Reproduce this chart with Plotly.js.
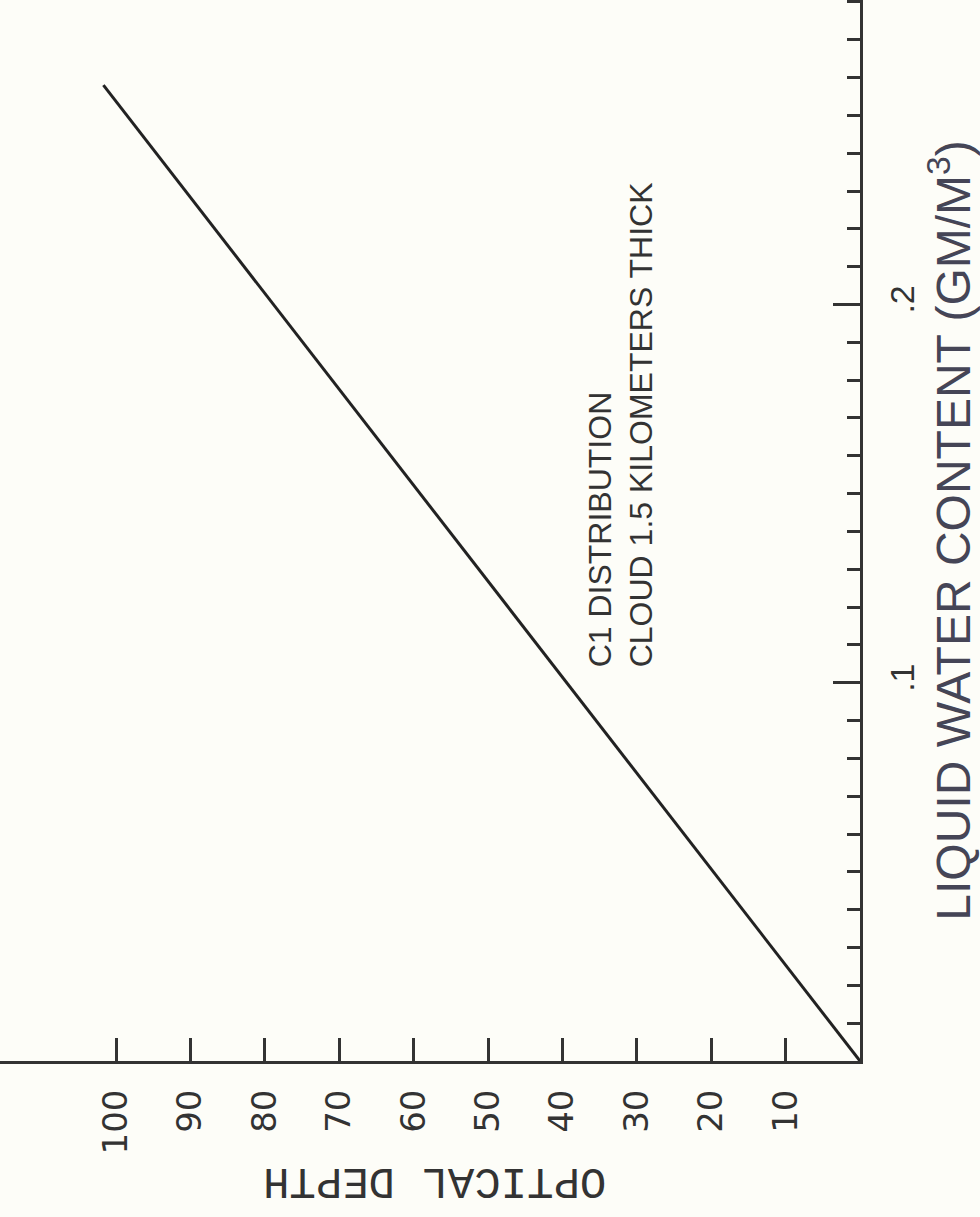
<!DOCTYPE html>
<html>
<head>
<meta charset="utf-8">
<script src="https://cdn.plot.ly/plotly-3.0.1.min.js"></script>
<style>
  html, body { margin: 0; padding: 0; background: #fdfdf8; }
  #chart { width: 980px; height: 1217px; }
</style>
</head>
<body>
<div id="chart"></div>
<script>
// Data (optical depth vs liquid water content)
const liquidWaterContent = [0, 0.05, 0.10, 0.15, 0.20, 0.258];
const opticalDepth = [0, 19.7, 39.4, 59.1, 78.8, 101.7];

// Tick labels
const odTickVals = [10, 20, 30, 40, 50, 60, 70, 80, 90, 100];
const odTickText = ['10', '20', '30', '40', '50', '60', '70', '80', '90', '100'];
const lwcTickVals = [0.1, 0.2];
const lwcTickText = ['.1', '.2'];

// Text
const xTitle = 'OPTICAL DEPTH';
const yTitle = 'LIQUID WATER CONTENT (GM/M<sup>3</sup>)';
const noteText = 'C1 DISTRIBUTION<br>CLOUD 1.5 KILOMETERS THICK';

const ink = '#333333';

const trace = {
  x: opticalDepth,
  y: liquidWaterContent,
  type: 'scatter',
  mode: 'lines',
  line: { color: '#222222', width: 3 },
  hoverinfo: 'skip'
};

const layout = {
  width: 980,
  height: 1217,
  paper_bgcolor: '#fdfdf8',
  plot_bgcolor: '#fdfdf8',
  showlegend: false,
  margin: { l: 0, r: 120, t: 0, b: 156 },
  xaxis: {
    range: [115.6, 0],
    tickmode: 'array',
    tickvals: odTickVals,
    ticktext: odTickText,
    tickangle: -90,
    ticks: 'inside',
    ticklen: 23,
    tickwidth: 3,
    tickcolor: ink,
    ticklabelstandoff: 12,
    tickfont: { family: 'DejaVu Sans', size: 34, color: ink },
    showline: true,
    linewidth: 3,
    linecolor: ink,
    showgrid: false,
    zeroline: false
  },
  yaxis: {
    side: 'right',
    range: [0, 0.2805],
    tickmode: 'array',
    tickvals: lwcTickVals,
    ticktext: lwcTickText,
    tickangle: -90,
    ticks: 'inside',
    ticklen: 27,
    tickwidth: 3,
    tickcolor: ink,
    ticklabelstandoff: 10,
    tickfont: { family: 'Liberation Sans', size: 34, color: ink },
    minor: { tick0: 0, dtick: 0.01, ticks: 'inside', ticklen: 13, tickwidth: 3, tickcolor: ink, showgrid: false },
    showline: true,
    linewidth: 3,
    linecolor: ink,
    showgrid: false,
    zeroline: false,
    title: {
      text: yTitle,
      standoff: 12,
      font: { family: 'Liberation Sans', size: 48, color: '#454556' }
    }
  },
  annotations: [
    {
      text: xTitle,
      xref: 'paper', yref: 'paper',
      x: 0.506, y: -0.113,
      xanchor: 'center', yanchor: 'middle',
      textangle: 180,
      showarrow: false,
      font: { family: 'Liberation Mono', size: 44, color: ink }
    },
    {
      text: noteText,
      xref: 'paper', yref: 'paper',
      x: 0.722, y: 0.6,
      xanchor: 'center', yanchor: 'middle',
      textangle: -90,
      align: 'left',
      showarrow: false,
      font: { family: 'Liberation Sans', size: 32, color: ink }
    }
  ]
};

Plotly.newPlot('chart', [trace], layout, { displayModeBar: false, staticPlot: true });
</script>
</body>
</html>
